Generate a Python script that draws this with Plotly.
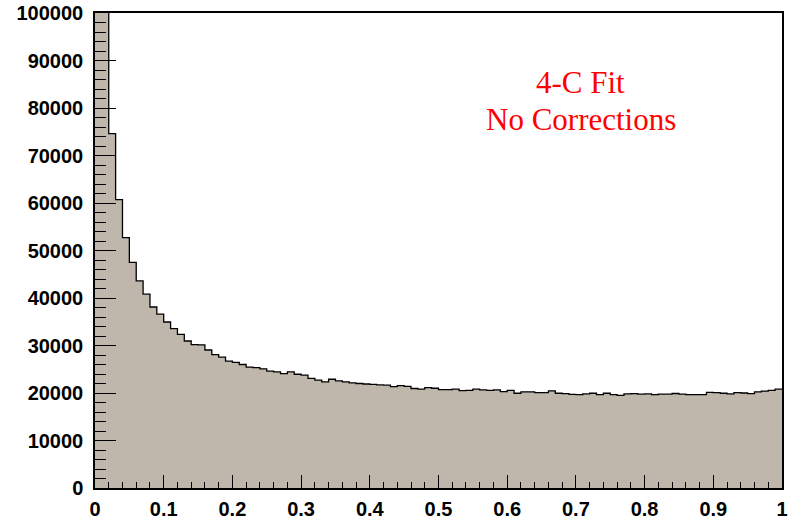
import numpy as np
import plotly.graph_objects as go

# Histogram: 100 bins on [0, 1]
bin_lo = 0.0
bin_hi = 1.0
n_bins = 100

counts = [
    135000, 104000, 74600, 60700, 52700, 47500, 43600, 40800, 38100, 36600,
    34950, 33550, 32350, 30950, 30200, 30150, 29050, 28100, 27550, 26700,
    26450, 26000, 25450, 25350, 25100, 24600, 24450, 24100, 24450, 23950,
    23750, 23100, 22700, 22350, 22900, 22550, 22350, 22150, 22000, 21900,
    21800, 21700, 21650, 21350, 21550, 21400, 20950, 20800, 21150, 21000,
    20700, 20700, 20800, 20500, 20550, 20800, 20650, 20550, 20650, 20300,
    20550, 19950, 20250, 20250, 20100, 20100, 20450, 19950, 19850, 19700,
    19650, 19800, 19950, 19650, 19950, 19650, 19500, 19800, 19850, 19750,
    19800, 19650, 19750, 19750, 19900, 19750, 19650, 19650, 19650, 20150,
    20100, 19950, 19800, 20100, 20000, 19850, 20250, 20400, 20550, 20800,
]

y_max = 100000
x_ticks = [0, 0.1, 0.2, 0.3, 0.4, 0.5, 0.6, 0.7, 0.8, 0.9, 1]
x_tick_text = ["0", "0.1", "0.2", "0.3", "0.4", "0.5", "0.6", "0.7", "0.8", "0.9", "1"]
y_ticks = list(range(0, 100001, 10000))
y_tick_text = [str(v) for v in y_ticks]

label_lines = ["4-C Fit", "No Corrections"]

edges = np.linspace(bin_lo, bin_hi, n_bins + 1)
step_x = list(edges[:-1]) + [edges[-1]]
step_y = list(counts) + [counts[-1]]

fill_col = "rgb(192,183,172)"

fig = go.Figure()
fig.add_trace(go.Scatter(
    x=step_x, y=step_y, mode="lines", line_shape="hv",
    line=dict(color="black", width=1.3),
    fill="tozeroy", fillcolor=fill_col,
    hoverinfo="skip", showlegend=False,
))

tick_font = dict(family="Liberation Sans, Arial, sans-serif", size=20,
                 color="black", weight="bold")

fig.update_xaxes(
    range=[bin_lo, bin_hi], tickmode="array", tickvals=x_ticks, ticktext=x_tick_text,
    ticks="inside", ticklen=13, tickwidth=1.2, tickcolor="black",
    minor=dict(dtick=0.02, tick0=0, ticks="inside", ticklen=6, tickwidth=1.2, tickcolor="black"),
    showline=True, linecolor="black", linewidth=1.5, mirror=True,
    showgrid=False, zeroline=False, tickfont=tick_font, ticklabelstandoff=2,
    automargin=False,
)
fig.update_yaxes(
    range=[0, y_max], tickmode="array", tickvals=y_ticks, ticktext=y_tick_text,
    ticks="inside", ticklen=21, tickwidth=1.2, tickcolor="black",
    minor=dict(dtick=2000, tick0=0, ticks="inside", ticklen=11, tickwidth=1.2, tickcolor="black"),
    showline=True, linecolor="black", linewidth=1.5, mirror=True,
    showgrid=False, zeroline=False, tickfont=tick_font, ticklabelstandoff=6,
    automargin=False,
)

text_font = dict(family="Liberation Serif, Times New Roman, serif", size=31, color="red")
for line, ypos in zip(label_lines, [0.853, 0.775]):
    fig.add_annotation(text=line, xref="paper", yref="paper", x=0.707, y=ypos,
                       xanchor="center", yanchor="middle", showarrow=False, font=text_font)

fig.update_layout(
    width=788, height=521,
    margin=dict(l=95, r=6, t=13, b=33),
    paper_bgcolor="white", plot_bgcolor="white",
)

fig.write_html("out.html")
